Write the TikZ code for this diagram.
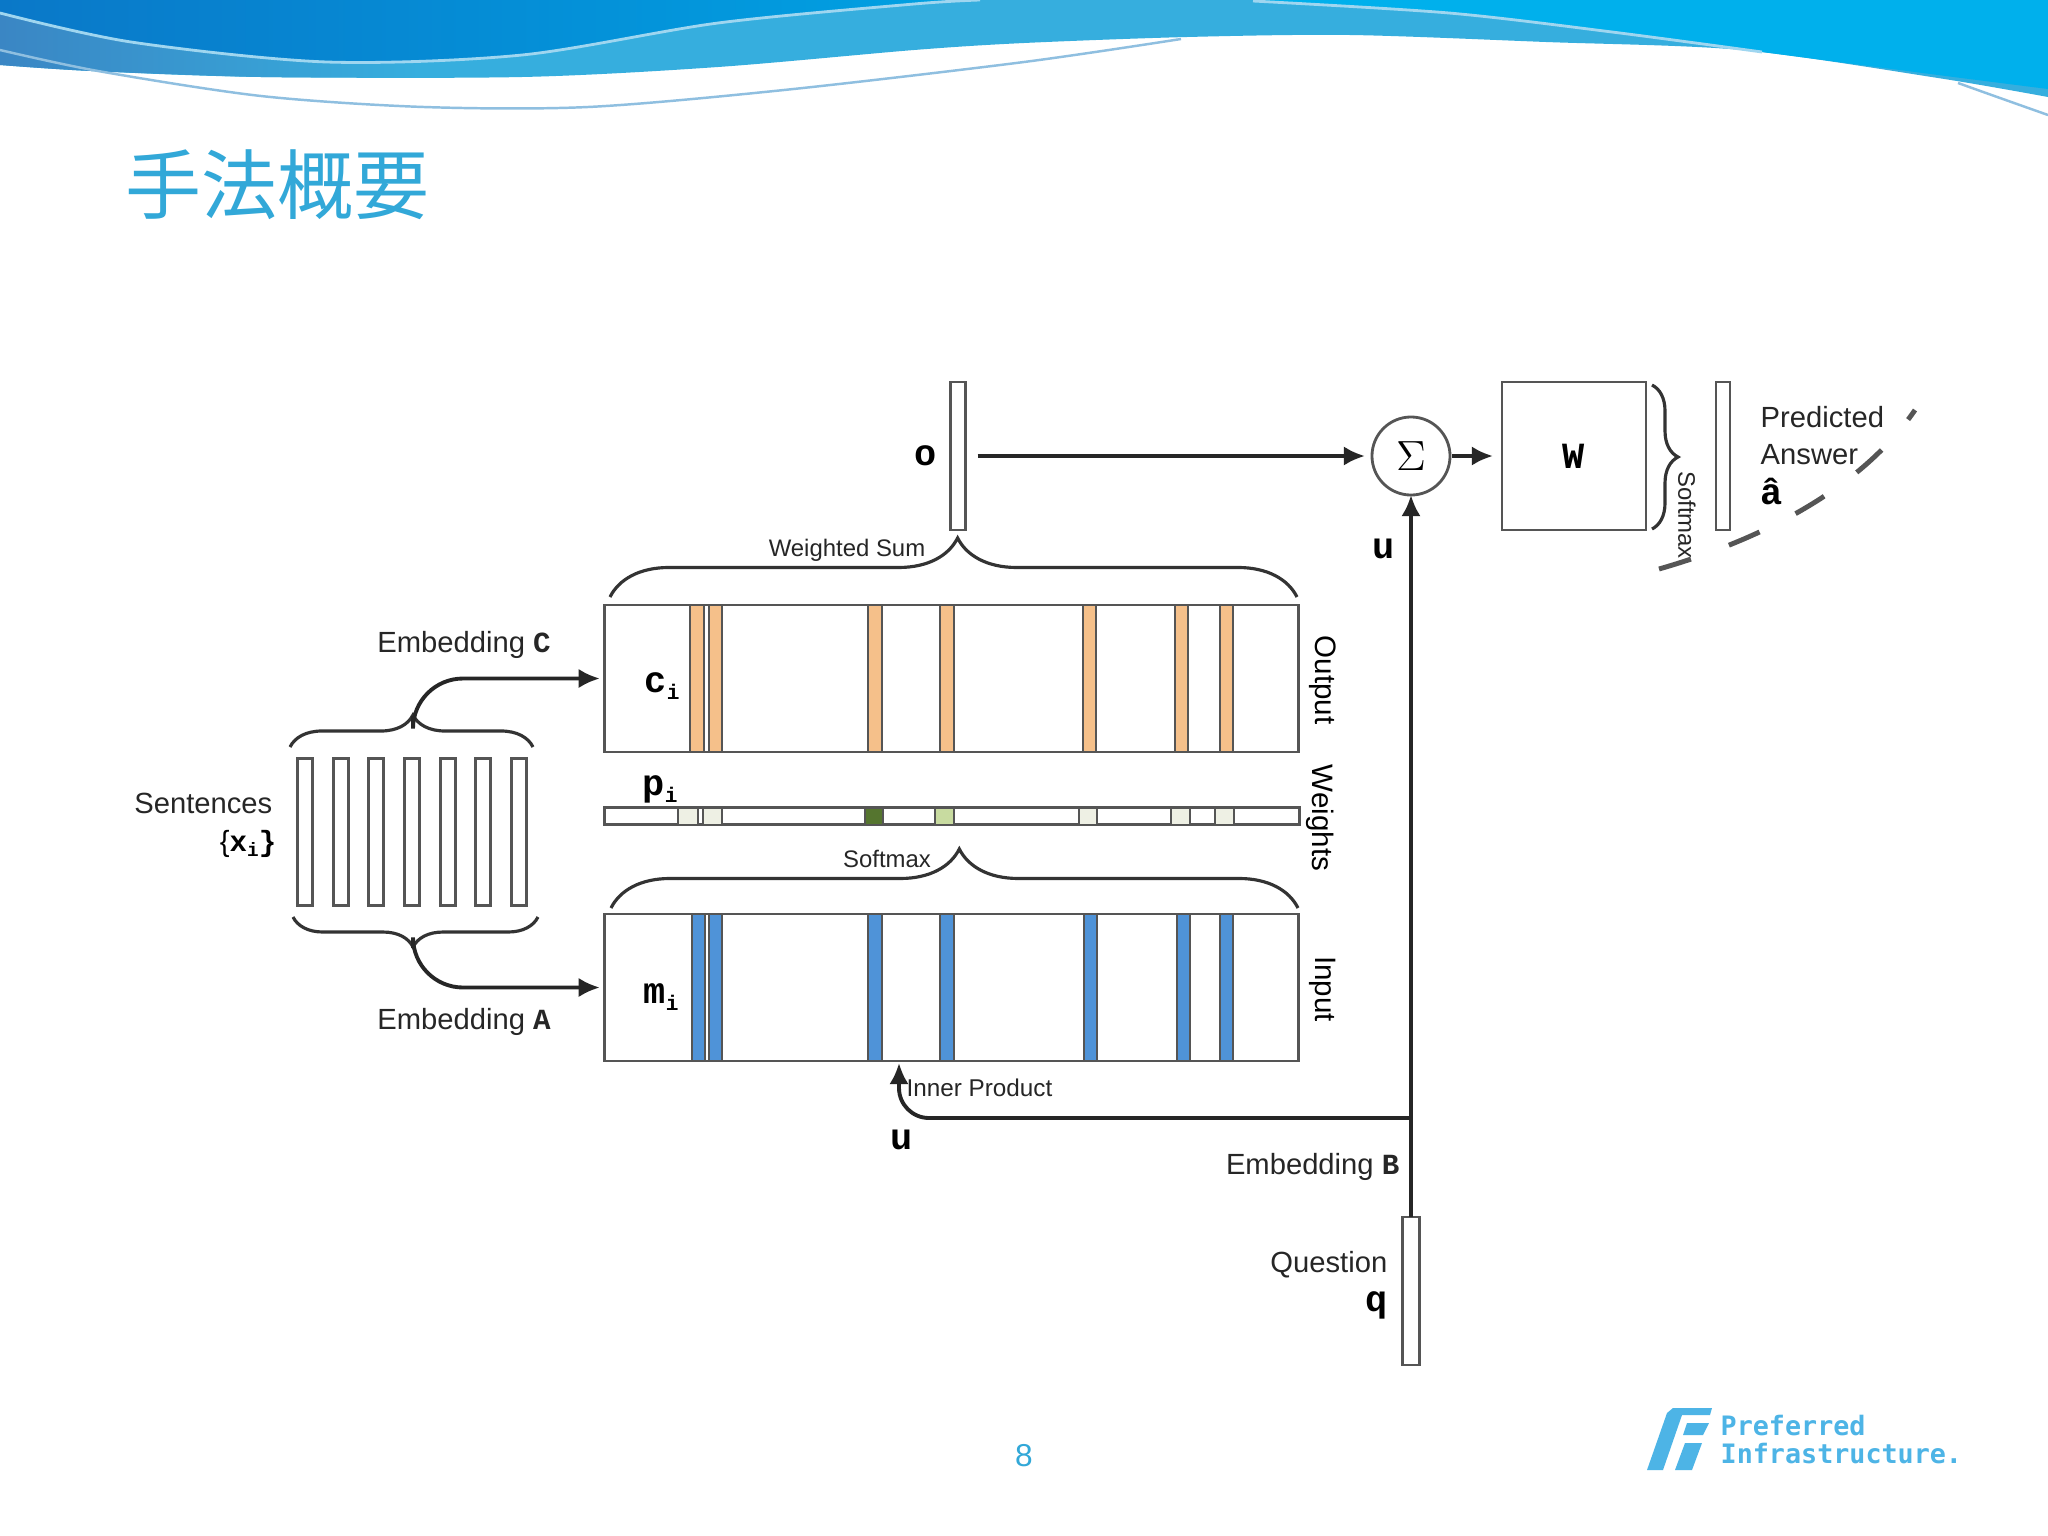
\documentclass[tikz,border=0pt]{standalone}
\usepackage{fontspec}
\setmainfont{Liberation Sans}
\newfontfamily\vecfont{Liberation Mono}
\newfontfamily\titlefont{Noto Sans CJK JP}
\newfontfamily\logofont{DejaVu Sans Mono}
\usetikzlibrary{positioning,arrows.meta,decorations.pathreplacing}
\definecolor{bandtop}{HTML}{00B0EC}
\definecolor{bandblue}{HTML}{00A2E3}
\definecolor{bandleft}{HTML}{0A78C8}
\definecolor{bandlow}{HTML}{36AEDE}
\definecolor{bandlowleft}{HTML}{3A86C4}
\definecolor{bandline}{HTML}{8FBFE0}
\definecolor{bandglow}{HTML}{9FD6F0}
\definecolor{titleblue}{HTML}{32A8D8}
\definecolor{logoblue}{HTML}{4DB4E6}
\definecolor{linegray}{HTML}{555555}
\definecolor{memorange}{HTML}{F5C08A}
\definecolor{memblue}{HTML}{4F93D8}
\definecolor{weightpale}{HTML}{EEF0E4}
\definecolor{weightdark}{HTML}{55752F}
\definecolor{weightlight}{HTML}{C8DBA0}
\newcommand{\vecsym}[1]{{\vecfont\bfseries\fontsize{10.5}{12}\selectfont #1}}
\newcommand{\vecsub}[2]{{\vecfont\bfseries\fontsize{10.5}{12}\selectfont #1\raisebox{-2pt}{\fontsize{6}{6}\selectfont #2}}}
\tikzset{
  boxnode/.style={draw=linegray,line width=0.8pt,inner sep=0pt,outer sep=0pt},
  vecbar/.style={boxnode,minimum width=0.15cm,minimum height=1.48cm},
  membox/.style={boxnode,minimum width=6.93cm,minimum height=1.47cm},
  arrowline/.style={-{Latex[length=6pt,width=5.5pt]},line width=1.1pt,draw=black!85},
  bracearc/.style={line width=0.9pt,draw=black!80,decorate},
  sidelabel/.style={font=\fontsize{8.4}{10}\selectfont,rotate=-90},
  plainlabel/.style={font=\fontsize{8.3}{10}\selectfont,text=black!85},
  smalllabel/.style={font=\fontsize{6.8}{8}\selectfont,text=black!85}
}
\begin{document}
\begin{tikzpicture}[x=0.01cm,y=-0.01cm]
\useasboundingbox (0,0) rectangle (2048,1536);
\fill[white] (0,0) rectangle (2048,1536);
\fill[bandlow] (0,0) -- plot[smooth] coordinates {(0,65) (91,71) (261,77) (522,77) (718,67) (914,50) (1024,43) (1187,37) (1350,35) (1546,42) (1742,50) (1938,78) (2048,97)} -- (2048,0) -- cycle;
\shade[left color=bandlowleft,right color=bandlow] (0,0) -- plot[smooth] coordinates {(0,65) (91,71) (261,77) (420,77)} -- (420,0) -- cycle;
\shade[left color=bandleft,right color=bandblue] (0,0) -- plot[smooth] coordinates {(0,13) (131,42) (327,62) (522,55) (718,23) (914,4) (980,0)} -- cycle;
\fill[bandtop] (2048,0) -- plot[smooth] coordinates {(1253,0) (1449,13) (1612,32) (1762,52) (1938,75) (2048,89)} -- cycle;
\draw[bandglow,line width=0.8pt] plot[smooth] coordinates {(0,13) (131,42) (327,62) (522,55) (718,23) (914,4) (980,0)};
\draw[bandglow,line width=0.8pt] plot[smooth] coordinates {(1253,1) (1449,13) (1612,32) (1762,52)};
\draw[bandline,line width=0.7pt] plot[smooth] coordinates {(0,50) (98,71) (261,96) (424,107) (588,107) (784,90) (1024,62) (1181,39)};
\draw[bandline,line width=0.7pt] plot[smooth] coordinates {(1958,83) (2000,98) (2048,115)};
\node[anchor=west,inner sep=0pt,text=titleblue,font=\titlefont\fontsize{21.6}{24}\selectfont] (title) at (125,185) {手法概要};

\node[vecbar] (o) at (958,456) {};
\node[left=0.01cm of o] (olabel) {\vecsym{o}};
\node[circle,boxnode,minimum size=0.78cm] (sum) at (1411,456) {\large$\Sigma$};
\node[boxnode,minimum width=1.44cm,minimum height=1.48cm] (w) at (1574,456) {\vecsym{W}};
\node[vecbar,minimum width=0.14cm] (answer) at (1723,456) {};
\node[plainlabel,anchor=west,inner sep=0pt] (predicted) at (1760,417) {Predicted};
\node[plainlabel,anchor=west,inner sep=0pt] (answertext) at (1760,455) {Answer};
\node[anchor=west,inner sep=0pt] (ahat) at (1760,491) {\vecsym{â}};
\node[smalllabel,rotate=-90] (softmaxw) at (1687,515) {Softmax};
\draw[arrowline,shorten <=0.12cm,shorten >=0.07cm] (o) -- (sum);
\draw[arrowline,shorten <=0.02cm,shorten >=0.09cm] (sum) -- (w);
\draw[bracearc,decoration={brace,amplitude=0.26cm}] (1652,385) -- (1652,529);
\coordinate (dashstart) at (1659,569);
\coordinate (dashend) at (1915,410);
\draw[linegray,line width=1.4pt,dash pattern=on 9.5pt off 11.5pt] (dashstart) .. controls (1760,540) and (1860,490) .. (dashend);

\node[membox] (output) at (951.5,678.5) {};
\node[membox] (input) at (951.5,987.5) {};
\node[boxnode,minimum width=6.95cm,minimum height=0.17cm] (weights) at (952,816) {};
\draw[draw=linegray,line width=0.6pt,fill=memorange] (690,605) rectangle (704,752) (709,605) rectangle (722,752) (868,605) rectangle (882,752) (940,605) rectangle (954,752) (1083,605) rectangle (1096,752) (1175,605) rectangle (1188,752) (1220,605) rectangle (1233,752);
\draw[draw=linegray,line width=0.6pt,fill=memblue] (692,914) rectangle (705,1061) (709,914) rectangle (722,1061) (868,914) rectangle (882,1061) (940,914) rectangle (954,1061) (1084,914) rectangle (1097,1061) (1177,914) rectangle (1190,1061) (1220,914) rectangle (1233,1061);
\draw[draw=linegray,line width=0.6pt,fill=weightpale] (678,808) rectangle (698,825) (703,808) rectangle (722,825) (1079,808) rectangle (1097,825) (1171,808) rectangle (1190,825) (1215,808) rectangle (1234,825);
\draw[draw=linegray,line width=0.6pt,fill=weightdark] (865,808) rectangle (883,825);
\draw[draw=linegray,line width=0.6pt,fill=weightlight] (935,808) rectangle (954,825);
\node (clabel) at (662,686) {\vecsub{c}{i}};
\node (plabel) at (660,789) {\vecsub{p}{i}};
\node (mlabel) at (661,997) {\vecsub{m}{i}};
\node[sidelabel] (outputlabel) at (1323,680) {Output};
\node[sidelabel] (weightslabel) at (1320,818) {Weights};
\node[sidelabel] (inputlabel) at (1323,989) {Input};
\draw[bracearc,decoration={brace,amplitude=0.59cm,aspect=0.506}] (610,597) -- (1297,597);
\draw[bracearc,decoration={brace,amplitude=0.59cm,aspect=0.507}] (611,908) -- (1298,908);
\node[smalllabel] (weightedsum) at (847,550) {Weighted Sum};
\node[smalllabel] (softmaxp) at (887,859) {Softmax};

\node[vecbar,minimum height=1.47cm] (s1) at (305,832) {};
\node[vecbar,minimum height=1.47cm] (s2) at (341,832) {};
\node[vecbar,minimum height=1.47cm] (s3) at (376,832) {};
\node[vecbar,minimum height=1.47cm] (s4) at (412,832) {};
\node[vecbar,minimum height=1.47cm] (s5) at (448,832) {};
\node[vecbar,minimum height=1.47cm] (s6) at (483,832) {};
\node[vecbar,minimum height=1.47cm] (s7) at (519,832) {};
\draw[bracearc,decoration={brace,amplitude=0.32cm,aspect=0.506}] (290,747) -- (533,747);
\draw[bracearc,decoration={brace,mirror,amplitude=0.30cm,aspect=0.49}] (293,917) -- (538,917);
\coordinate (tipc) at (413,716);
\coordinate (tipa) at (413,948);
\draw[arrowline,rounded corners=0.5cm,shorten >=0.05cm] (tipc) |- (output.west);
\draw[arrowline,rounded corners=0.5cm,shorten >=0.05cm] (tipa) |- (input.west);
\node[plainlabel] (embc) at (464,645) {Embedding \vecfont\bfseries C};
\node[plainlabel] (emba) at (464,1022) {Embedding \vecfont\bfseries A};
\node[plainlabel,anchor=east,inner sep=0pt] (sentences) at (273,803) {Sentences};
\node[anchor=east,inner sep=0pt,font=\fontsize{8.3}{10}\selectfont] (xlabel) at (277,844) {\{\vecfont\bfseries x\raisebox{-1.5pt}{\fontsize{5.5}{6}\selectfont i}\}};

\node[vecbar,minimum width=0.17cm] (q) at (1411,1291) {};
\coordinate (junction) at (1411,1118);
\coordinate (innertip) at (899,1063);
\draw[arrowline] (q) -- (sum);
\draw[arrowline,rounded corners=0.3cm] (junction) -| (innertip);
\node (ulabel) at (1384,549) {\vecsym{u}};
\node (ulabelb) at (902,1140) {\vecsym{u}};
\node[anchor=west,inner sep=0pt,text=black!85,font=\fontsize{6.9}{9}\selectfont] (innerproduct) at (906,1088) {Inner Product};
\node[plainlabel,anchor=east,inner sep=0pt] (embb) at (1400,1167) {Embedding \vecfont\bfseries B};
\node[plainlabel,anchor=east,inner sep=0pt] (question) at (1388,1265) {Question};
\node[anchor=east,inner sep=0pt] (qlabel) at (1388,1305) {\vecsym{q}};

\node[text=titleblue,font=\fontsize{9}{11}\selectfont] (pagenum) at (1024,1456) {8};
\fill[logoblue] (1647,1470) -- (1667,1413) -- (1673,1408) -- (1712,1408) -- (1710,1415) -- (1682,1415) -- (1663,1470) -- cycle;
\fill[logoblue] (1687,1423) -- (1709,1423) -- (1703,1435) -- (1683,1435) -- cycle;
\fill[logoblue] (1685,1443) -- (1702,1443) -- (1692,1470) -- (1675,1470) -- cycle;
\node[anchor=west,inner sep=0pt,text=logoblue,font=\logofont\bfseries\fontsize{7.6}{9}\selectfont] (logoa) at (1720,1426) {Preferred};
\node[anchor=west,inner sep=0pt,text=logoblue,font=\logofont\bfseries\fontsize{7.6}{9}\selectfont] (logob) at (1720,1454) {Infrastructure.};
\end{tikzpicture}
\end{document}
